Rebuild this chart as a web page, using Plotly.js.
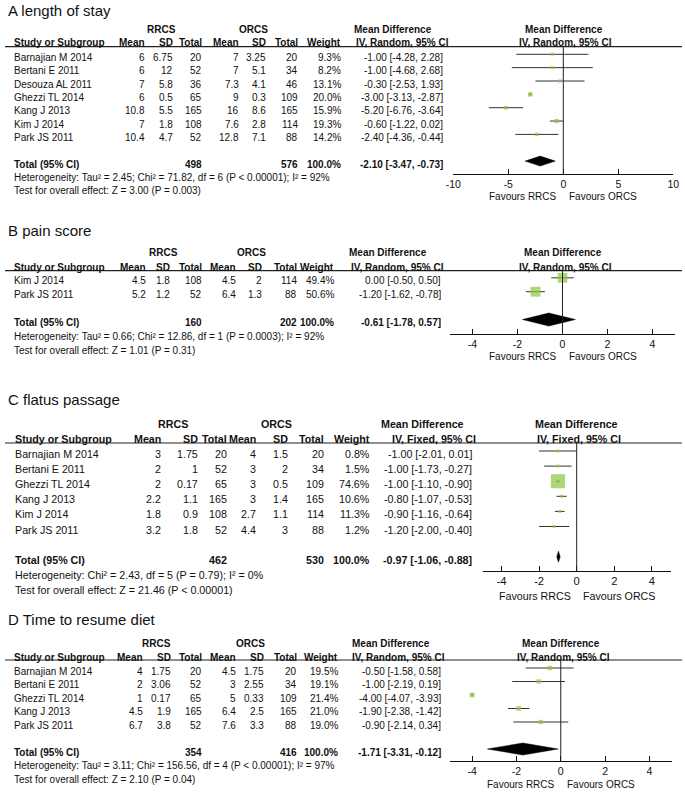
<!DOCTYPE html>
<html><head><meta charset="utf-8">
<script src="https://cdn.plot.ly/plotly-3.0.1.min.js"></script>
<style>html,body{margin:0;padding:0;background:#fff;}#chart{width:685px;height:792px;}</style>
</head><body><div id="chart"></div>
<script>
// ================= DATA =================
// A length of stay
const studiesA = ['Barnajian M 2014','Bertani E 2011','Desouza AL 2011','Ghezzi TL 2014','Kang J 2013','Kim J 2014','Park JS 2011'];
const rrcsMeanA = [6, 6, 7, 6, 10.8, 7, 10.4];
const rrcsSdA   = [6.75, 12, 5.8, 0.5, 5.5, 1.8, 4.7];
const rrcsNA    = [20, 52, 36, 65, 165, 108, 52];
const orcsMeanA = [7, 7, 7.3, 9, 16, 7.6, 12.8];
const orcsSdA   = [3.25, 5.1, 4.1, 0.3, 8.6, 2.8, 7.1];
const orcsNA    = [20, 34, 46, 109, 165, 114, 88];
const weightA   = [9.3, 8.2, 13.1, 20.0, 15.9, 19.3, 14.2];
const mdA = [-1.00, -1.00, -0.30, -3.00, -5.20, -0.60, -2.40];
const loA = [-4.28, -4.68, -2.53, -3.13, -6.76, -1.22, -4.36];
const hiA = [2.28, 2.68, 1.93, -2.87, -3.64, 0.02, -0.44];
const totalA = {n1: 498, n2: 576, w: '100.0%', md: -2.10, lo: -3.47, hi: -0.73};
const hetA = 'Heterogeneity: Tau² = 2.45; Chi² = 71.82, df = 6 (P < 0.00001); I² = 92%';
const testA = 'Test for overall effect: Z = 3.00 (P = 0.003)';
const ticksA = [-10, -5, 0, 5, 10];

// B pain score
const studiesB = ['Kim J 2014','Park JS 2011'];
const rrcsMeanB = [4.5, 5.2];
const rrcsSdB   = [1.8, 1.2];
const rrcsNB    = [108, 52];
const orcsMeanB = [4.5, 6.4];
const orcsSdB   = [2, 1.3];
const orcsNB    = [114, 88];
const weightB   = [49.4, 50.6];
const mdB = [0.00, -1.20];
const loB = [-0.50, -1.62];
const hiB = [0.50, -0.78];
const totalB = {n1: 160, n2: 202, w: '100.0%', md: -0.61, lo: -1.78, hi: 0.57};
const hetB = 'Heterogeneity: Tau² = 0.66; Chi² = 12.86, df = 1 (P = 0.0003); I² = 92%';
const testB = 'Test for overall effect: Z = 1.01 (P = 0.31)';
const ticksB = [-4, -2, 0, 2, 4];

// C flatus passage
const studiesC = ['Barnajian M 2014','Bertani E 2011','Ghezzi TL 2014','Kang J 2013','Kim J 2014','Park JS 2011'];
const rrcsMeanC = [3, 2, 2, 2.2, 1.8, 3.2];
const rrcsSdC   = [1.75, 1, 0.17, 1.1, 0.9, 1.8];
const rrcsNC    = [20, 52, 65, 165, 108, 52];
const orcsMeanC = [4, 3, 3, 3, 2.7, 4.4];
const orcsSdC   = [1.5, 2, 0.5, 1.4, 1.1, 3];
const orcsNC    = [20, 34, 109, 165, 114, 88];
const weightC   = [0.8, 1.5, 74.6, 10.6, 11.3, 1.2];
const mdC = [-1.00, -1.00, -1.00, -0.80, -0.90, -1.20];
const loC = [-2.01, -1.73, -1.10, -1.07, -1.16, -2.00];
const hiC = [0.01, -0.27, -0.90, -0.53, -0.64, -0.40];
const totalC = {n1: 462, n2: 530, w: '100.0%', md: -0.97, lo: -1.06, hi: -0.88};
const hetC = 'Heterogeneity: Chi² = 2.43, df = 5 (P = 0.79); I² = 0%';
const testC = 'Test for overall effect: Z = 21.46 (P < 0.00001)';
const ticksC = [-4, -2, 0, 2, 4];

// D Time to resume diet
const studiesD = ['Barnajian M 2014','Bertani E 2011','Ghezzi TL 2014','Kang J 2013','Park JS 2011'];
const rrcsMeanD = [4, 2, 1, 4.5, 6.7];
const rrcsSdD   = [1.75, 3.06, 0.17, 1.9, 3.8];
const rrcsND    = [20, 52, 65, 165, 52];
const orcsMeanD = [4.5, 3, 5, 6.4, 7.6];
const orcsSdD   = [1.75, 2.55, 0.33, 2.5, 3.3];
const orcsND    = [20, 34, 109, 165, 88];
const weightD   = [19.5, 19.1, 21.4, 21.0, 19.0];
const mdD = [-0.50, -1.00, -4.00, -1.90, -0.90];
const loD = [-1.58, -2.19, -4.07, -2.38, -2.14];
const hiD = [0.58, 0.19, -3.93, -1.42, 0.34];
const totalD = {n1: 354, n2: 416, w: '100.0%', md: -1.71, lo: -3.31, hi: -0.12};
const hetD = 'Heterogeneity: Tau² = 3.11; Chi² = 156.56, df = 4 (P < 0.00001); I² = 97%';
const testD = 'Test for overall effect: Z = 2.10 (P = 0.04)';
const ticksD = [-4, -2, 0, 2, 4];

// ================= LAYOUT =================
const W = 685, H = 792;
const FONT = 'Liberation Sans, Arial, Helvetica, sans-serif';
const TXT = '#111';
const GREEN = '#8cc63f';
function px(x){ return x / W; }
function py(y){ return 1 - y / H; }

const panels = [
 {title:'A length of stay', studies:studiesA, m1:rrcsMeanA, sd1:rrcsSdA, n1:rrcsNA, m2:orcsMeanA, sd2:orcsSdA, n2:orcsNA,
  w:weightA, md:mdA, lo:loA, hi:hiA, tot:totalA, het:hetA, test:testA, ticks:ticksA, method:'IV, Random, 95% CI',
  L:{fs:10, titleY:11, grpY:29, hdrY:42.7, lineY:46.7, y0:57.3, s:13.35, axY:174, favY:196.7, nameX:13,
     cols:[146,173.5,202.5,239.5,267,298.5,342,444], grpX:[161,253], mdHdr:[393,402], fHdr:[564,565],
     xPix:[453.3,673.3], range:[-10,10], dh:5}},
 {title:'B pain score', studies:studiesB, m1:rrcsMeanB, sd1:rrcsSdB, n1:rrcsNB, m2:orcsMeanB, sd2:orcsSdB, n2:orcsNB,
  w:weightB, md:mdB, lo:loB, hi:hiB, tot:totalB, het:hetB, test:testB, ticks:ticksB, method:'IV, Random, 95% CI',
  L:{fs:10, titleY:230, grpY:253, hdrY:267.5, lineY:270.7, y0:280.8, s:13.9, axY:334, favY:356.7, nameX:13,
     cols:[146.7,170.7,202.7,237.3,263.3,297.7,335,441.7], grpX:[163,252], mdHdr:[388,397.5], fHdr:[562.5,565],
     xPix:[450,675], range:[-5,5], dh:6.5}},
 {title:'C flatus passage', studies:studiesC, m1:rrcsMeanC, sd1:rrcsSdC, n1:rrcsNC, m2:orcsMeanC, sd2:orcsSdC, n2:orcsNC,
  w:weightC, md:mdC, lo:loC, hi:hiC, tot:totalC, het:hetC, test:testC, ticks:ticksC, method:'IV, Fixed, 95% CI',
  L:{fs:10.7, titleY:399, grpY:424, hdrY:438.5, lineY:443, y0:454, s:15.1, axY:571, favY:595.7, nameX:14,
     cols:[161.7,199,227.5,256.7,288.7,325,370.7,473], grpX:[173.3,276.7], mdHdr:[422.3,434], fHdr:[576.3,579.3],
     xPix:[482.7,670.7], range:[-5,5], dh:5.5}},
 {title:'D Time to resume diet', studies:studiesD, m1:rrcsMeanD, sd1:rrcsSdD, n1:rrcsND, m2:orcsMeanD, sd2:orcsSdD, n2:orcsND,
  w:weightD, md:mdD, lo:loD, hi:hiD, tot:totalD, het:hetD, test:testD, ticks:ticksD, method:'IV, Random, 95% CI',
  L:{fs:10, titleY:619.3, grpY:643.3, hdrY:657, lineY:660, y0:671, s:13.5, axY:761, favY:784.3, nameX:13,
     cols:[144,171.7,202.7,237.3,265,297.7,339,441.7], grpX:[156.7,250.7], mdHdr:[390.5,398.8], fHdr:[560.5,563],
     xPix:[450,671.5], range:[-5,5], dh:6}}
];

const MARK_OFF = 3; // squares sit slightly above the text centre line
const fmt2 = v => v.toFixed(2);
const ciText = (m,l,h) => fmt2(m) + ' [' + fmt2(l) + ', ' + fmt2(h) + ']';

const traces = [], annotations = [], shapes = [];
const layout = {
  width: W, height: H, margin: {l:0, r:0, t:0, b:0},
  paper_bgcolor: '#fff', plot_bgcolor: 'rgba(0,0,0,0)',
  showlegend: false, font: {family: FONT, color: TXT}
};

function ann(text, x, y, xanchor, size, extra){
  const a = Object.assign({text: text, x: px(x), y: py(y), xref: 'paper', yref: 'paper',
    xanchor: xanchor, yanchor: 'middle', showarrow: false, borderpad: 0,
    font: {family: FONT, size: size, color: TXT}}, extra || {});
  annotations.push(a);
}

panels.forEach((p, k) => {
  const L = p.L, fs = L.fs;
  const sfx = k === 0 ? '' : String(k + 1);
  const xa = 'x' + sfx, ya = 'y' + sfx;
  const n = p.studies.length;
  const totRow = n + 1, hetRow = n + 2, testRow = n + 3;
  const rowY = r => L.y0 + r * L.s;

  // titles & headers
  ann(p.title, 7, L.titleY, 'left', 15);
  ann('<b>RRCS</b>', L.grpX[0], L.grpY, 'center', fs);
  ann('<b>ORCS</b>', L.grpX[1], L.grpY, 'center', fs);
  ann('<b>Mean Difference</b>', L.mdHdr[0], L.grpY, 'center', fs);
  ann('<b>Mean Difference</b>', L.fHdr[0], L.grpY, 'center', fs);
  ann('<b>' + p.method + '</b>', L.mdHdr[1], L.hdrY, 'center', fs);
  ann('<b>' + p.method + '</b>', L.fHdr[1], L.hdrY, 'center', fs);
  ann('<b>Study or Subgroup</b>', L.nameX, L.hdrY, 'left', fs);
  ['Mean','SD','Total','Mean','SD','Total','Weight'].forEach((h, i) => ann('<b>' + h + '</b>', L.cols[i], L.hdrY, 'right', fs));

  // study rows
  for (let i = 0; i < n; i++) {
    const y = rowY(i);
    ann(p.studies[i], L.nameX, y, 'left', fs);
    const vals = [p.m1[i], p.sd1[i], p.n1[i], p.m2[i], p.sd2[i], p.n2[i]].map(String);
    vals.push(p.w[i].toFixed(1) + '%');
    vals.push(ciText(p.md[i], p.lo[i], p.hi[i]));
    vals.forEach((v, j) => ann(v, L.cols[j], y, 'right', fs));
  }
  // total row
  const ty = rowY(totRow);
  ann('<b>Total (95% CI)</b>', L.nameX, ty, 'left', fs);
  ann('<b>' + p.tot.n1 + '</b>', L.cols[2], ty, 'right', fs);
  ann('<b>' + p.tot.n2 + '</b>', L.cols[5], ty, 'right', fs);
  ann('<b>' + p.tot.w + '</b>', L.cols[6], ty, 'right', fs);
  ann('<b>' + ciText(p.tot.md, p.tot.lo, p.tot.hi) + '</b>', L.cols[7], ty, 'right', fs);
  ann(p.het, L.nameX, rowY(hetRow), 'left', fs);
  ann(p.test, L.nameX, rowY(testRow), 'left', fs);

  // header rule
  shapes.push({type: 'line', xref: 'paper', yref: 'paper', x0: px(5), x1: px(682), y0: py(L.lineY), y1: py(L.lineY),
               line: {color: '#222', width: 1.2}});

  // axes
  const markTop = L.y0 - MARK_OFF;
  const rBottom = (L.axY - markTop) / L.s, rTop = (L.lineY - markTop) / L.s;
  layout['xaxis' + sfx] = {
    domain: [px(L.xPix[0]), px(L.xPix[1])], anchor: ya, range: L.range, fixedrange: true,
    showgrid: false, zeroline: false, showline: true, linecolor: '#111', linewidth: 1,
    ticks: 'inside', ticklen: 5, tickwidth: 1, tickcolor: '#111',
    tickvals: p.ticks, ticktext: p.ticks.map(String),
    tickfont: {family: FONT, size: fs + 0.5, color: TXT}
  };
  layout['yaxis' + sfx] = {
    domain: [py(L.axY), py(L.lineY)], anchor: xa, range: [rBottom, rTop], visible: false, fixedrange: true
  };

  // zero line
  shapes.push({type: 'line', xref: xa, yref: 'paper', x0: 0, x1: 0, y0: py(L.axY), y1: py(L.lineY),
               line: {color: '#222', width: 1}});

  // favours labels
  ann('Favours RRCS', 0, L.favY, 'right', fs, {xref: xa, x: 0, xshift: -5});
  ann('Favours ORCS', 0, L.favY, 'left', fs, {xref: xa, x: 0, xshift: 5});

  // study estimates with CIs
  const rows = p.studies.map((_, i) => i);
  traces.push({
    type: 'scatter', mode: 'markers', x: p.md, y: rows, xaxis: xa, yaxis: ya, cliponaxis: false,
    marker: {symbol: 'square', color: GREEN, size: p.w.map(w => Math.max(3, 1 + 0.175 * w)), line: {width: 0}},
    error_x: {type: 'data', symmetric: false,
              array: p.hi.map((h, i) => Math.max(0, h - p.md[i])),
              arrayminus: p.lo.map((l, i) => Math.max(0, p.md[i] - l)),
              color: '#333', thickness: 1, width: 0},
    hoverinfo: 'skip'
  });
  // pooled diamond
  const hh = L.dh / L.s;
  traces.push({
    type: 'scatter', mode: 'lines', xaxis: xa, yaxis: ya, fill: 'toself', fillcolor: '#000',
    x: [p.tot.lo, p.tot.md, p.tot.hi, p.tot.md, p.tot.lo],
    y: [totRow, totRow - hh, totRow, totRow + hh, totRow],
    line: {color: '#000', width: 0.5}, hoverinfo: 'skip'
  });
});

layout.annotations = annotations;
layout.shapes = shapes;
Plotly.newPlot('chart', traces, layout, {displayModeBar: false, staticPlot: true});
</script>
</body></html>
